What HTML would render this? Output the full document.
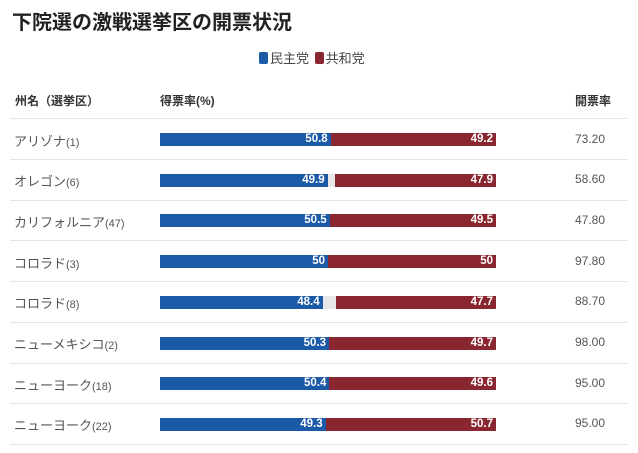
<!DOCTYPE html>
<html><head><meta charset="utf-8"><style>
body{margin:0;width:638px;height:453px;background:#fff;font-family:"Liberation Sans","Noto Sans CJK JP",sans-serif;position:relative;overflow:hidden}
.t{position:absolute;left:12px;top:6px;font-size:20px;font-weight:bold;color:#222}
.lg{position:absolute;top:48px;left:259px;font-size:13px;color:#444}
.lg i{display:inline-block;width:9px;height:12px;border-radius:2px;vertical-align:-1px;margin-right:2px}
.h{position:absolute;top:92px;font-size:12px;font-weight:bold;color:#333}
.ln{position:absolute;left:10px;width:618px;height:1px;background:#e4e4e4}
.n{position:absolute;left:14px;font-size:13px;color:#555}
.n small{font-size:11px}
.p{position:absolute;left:575px;font-size:12px;color:#555}
.bar{position:absolute;left:160px;width:336px;height:13px;background:#e8e8e8}
.b,.r{position:absolute;top:0;height:13px;color:#fff;font-size:11.5px;font-weight:bold;line-height:13px;text-align:right;box-sizing:border-box;padding-right:3px}
.b{left:0;background:#1c5aa8}.r{right:0;background:#8a2630}
</style></head><body>
<div class="t">下院選の激戦選挙区の開票状況</div>
<div class="lg"><i style="background:#1c5aa8"></i>民主党 <i style="background:#8a2630;margin-left:2px"></i>共和党</div>
<div class="h" style="left:15px">州名（選挙区）</div>
<div class="h" style="left:160px">得票率(%)</div>
<div class="h" style="left:575px">開票率</div>
<div id="rows"></div>
<script>
var d=[["アリゾナ","(1)",50.8,49.2,"73.20"],["オレゴン","(6)",49.9,47.9,"58.60"],["カリフォルニア","(47)",50.5,49.5,"47.80"],["コロラド","(3)",50,50,"97.80"],["コロラド","(8)",48.4,47.7,"88.70"],["ニューメキシコ","(2)",50.3,49.7,"98.00"],["ニューヨーク","(18)",50.4,49.6,"95.00"],["ニューヨーク","(22)",49.3,50.7,"95.00"]];
var h='<div class="ln" style="top:118px"></div>';
d.forEach(function(r,i){var c=139.5+i*40.7;
h+='<div class="n" style="top:'+(c-9)+'px">'+r[0]+'<small>'+r[1]+'</small></div>';
h+='<div class="bar" style="top:'+(c-6.5)+'px"><div class="b" style="width:'+(r[2]*3.36)+'px">'+r[2]+'</div><div class="r" style="width:'+(r[3]*3.36)+'px">'+r[3]+'</div></div>';
h+='<div class="p" style="top:'+(c-8)+'px">'+r[4]+'</div>';
h+='<div class="ln" style="top:'+(c+19.5)+'px"></div>';});
document.getElementById('rows').innerHTML=h;
</script>
</body></html>
